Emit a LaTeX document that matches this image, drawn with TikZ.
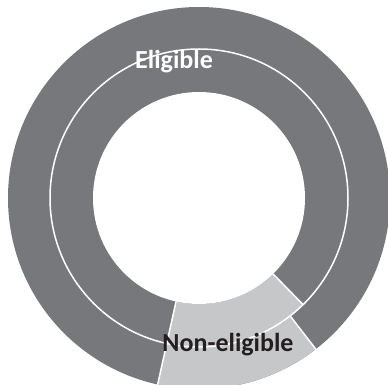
\documentclass[tikz,border=0pt]{standalone}
\usepackage{fontspec}
\setmainfont{Carlito}
\usetikzlibrary{calc}
\definecolor{darkseg}{RGB}{119,120,124}
\definecolor{lightseg}{RGB}{198,199,200}
\definecolor{labelblack}{RGB}{35,31,32}
\tikzset{
  sepline/.style={draw=white, line width=1.5pt},
  lbl/.style={font=\bfseries\fontsize{26}{26}\selectfont, inner sep=0pt}
}
\begin{document}
\begin{tikzpicture}[x=1pt,y=1pt]
\useasboundingbox (0,0) rectangle (388,-385);
\clip (0,0) rectangle (388,-385);
\fill[white] (0,0) rectangle (388,-385);
\coordinate (c) at (199,-198);
% outer disc
\fill[darkseg] (c) circle[radius=191];
% outer ring non-eligible
\fill[lightseg] ($(c)+(257.5:149)$) -- ($(c)+(257.5:191)$) arc[start angle=257.5, end angle=307.7, radius=191] -- ($(c)+(307.7:149)$) arc[start angle=307.7, end angle=257.5, radius=149] -- cycle;
% inner ring non-eligible
\fill[lightseg] ($(c)+(257.5:106)$) -- ($(c)+(257.5:149)$) arc[start angle=257.5, end angle=314.3, radius=149] -- ($(c)+(314.3:106)$) arc[start angle=314.3, end angle=257.5, radius=106] -- cycle;
% hole
\fill[white] (c) circle[radius=106];
% ring separator
\draw[sepline] (c) circle[radius=149];
% radial separators
\draw[sepline] ($(c)+(257.5:106)$) -- ($(c)+(257.5:192)$);
\draw[sepline] ($(c)+(307.7:149)$) -- ($(c)+(307.7:192)$);
\draw[sepline] ($(c)+(314.3:106)$) -- ($(c)+(314.3:149)$);
% labels
\node[lbl, text=white] (elig) at (174,-62) {Eligible};
\node[lbl, text=labelblack] (nonelig) at (228,-345) {Non-eligible};
\end{tikzpicture}
\end{document}
